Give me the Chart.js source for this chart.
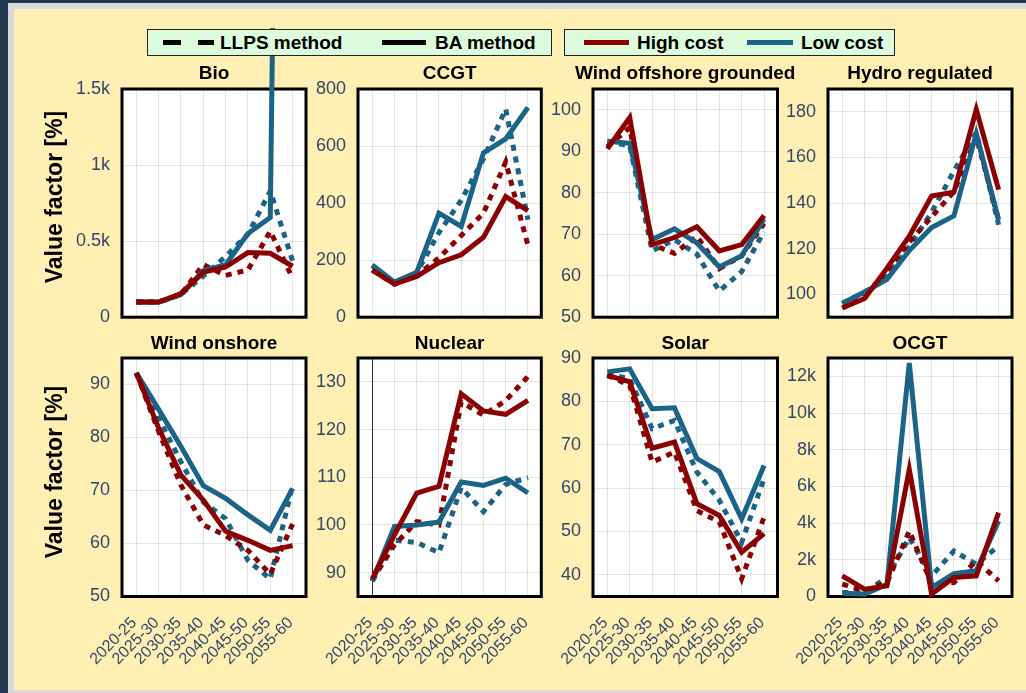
<!DOCTYPE html>
<html>
<head>
<meta charset="utf-8">
<title>Value factor by technology</title>
<script src="https://cdn.jsdelivr.net/npm/chart.js@4.4.1/dist/chart.umd.min.js"></script>
<style>
  html, body { margin: 0; padding: 0; }
  body {
    width: 1026px; height: 693px; position: relative; overflow: hidden;
    background: #22384f;
    font-family: "Liberation Sans", Arial, Helvetica, sans-serif;
  }
  #frame { position: absolute; left: 8px; top: 3px; right: -10px; bottom: -10px; background: #d9d9d9; }
  #sheet { position: absolute; left: 14px; top: 9px; right: -10px; height: 681px; background: #ffefb2; }
  canvas { position: absolute; }
  .legend {
    position: absolute; top: 29px; height: 25px; z-index: 5;
    background: #ddfcdc; border: 1px solid #222;
  }
  .legend span { position: absolute; }
  .sw { top: 10px; height: 5px; }
  .lbl { top: 0; line-height: 25px; font-weight: bold; font-size: 19px; color: #000; white-space: nowrap; }
  .ytitle {
    position: absolute; left: 54px; z-index: 4;
    font-weight: bold; font-size: 23px; color: #000; white-space: nowrap;
    transform: translate(-50%, -50%) rotate(-90deg);
  }
</style>
</head>
<body>
<div id="frame"></div>
<div id="sheet"></div>

<div class="legend" style="left:147px; width:403px;">
  <span class="sw" style="left:15px; width:18px; background:#000;"></span>
  <span class="sw" style="left:50px; width:16px; background:#000;"></span>
  <span class="lbl" style="left:72px;">LLPS method</span>
  <span class="sw" style="left:234px; width:44px; background:#000;"></span>
  <span class="lbl" style="left:287px;">BA method</span>
</div>
<div class="legend" style="left:564px; width:329px;">
  <span class="sw" style="left:19px; width:45px; background:#8b0000;"></span>
  <span class="lbl" style="left:72px;">High cost</span>
  <span class="sw" style="left:182px; width:46px; background:#1b6387;"></span>
  <span class="lbl" style="left:236px;">Low cost</span>
</div>

<div class="ytitle" style="top:197px;">Value factor [%]</div>
<div class="ytitle" style="top:472px;">Value factor [%]</div>

<script>
// Periods on the horizontal axis
const periods = ['2020-25', '2025-30', '2030-35', '2035-40', '2040-45', '2045-50', '2050-55', '2055-60'];

// Bio
const bioBaHigh   = [100, 100, 155, 295, 330, 425, 420, 335];
const bioBaLow    = [100, 98, 148, 305, 345, 550, 655, 12500];
const bioLlpsHigh = [100, 100, 150, 345, 275, 310, 565, 255];
const bioLlpsLow  = [100, 100, 150, 270, 400, 545, 830, 370];
const bioTicks    = [0, 500, 1000, 1500];

// CCGT
const ccgtBaHigh   = [165, 116, 143, 191, 219, 280, 423, 374];
const ccgtBaLow    = [183, 123, 157, 365, 318, 576, 625, 735];
const ccgtLlpsHigh = [165, 116, 145, 208, 286, 365, 544, 252];
const ccgtLlpsLow  = [180, 120, 155, 297, 410, 555, 730, 342];
const ccgtTicks    = [0, 200, 400, 600, 800];

// Wind offshore grounded
const offBaHigh   = [90.6, 98.1, 67.5, 69.2, 71.8, 66.0, 67.5, 74.5];
const offBaLow    = [92.4, 91.9, 68.7, 71.3, 67.9, 62.1, 64.8, 73.7];
const offLlpsHigh = [91.1, 95.7, 67.5, 65.4, 69.5, 61.7, 64.8, 72.6];
const offLlpsLow  = [92.3, 91.3, 66.0, 68.7, 65.2, 56.3, 61.0, 70.6];
const offTicks    = [50, 60, 70, 80, 90, 100];

// Hydro regulated
const hydroBaHigh   = [94.0, 98.2, 111.5, 125.5, 143.1, 144.8, 181.0, 145.9];
const hydroBaLow    = [96.1, 101.0, 106.6, 119.2, 129.3, 134.4, 170.5, 132.6];
const hydroLlpsHigh = [94.0, 99.0, 110.0, 123.0, 134.0, 145.0, 169.0, 132.6];
const hydroLlpsLow  = [96.0, 101.0, 108.0, 121.0, 136.0, 154.0, 171.0, 130.5];
const hydroTicks    = [100, 120, 140, 160, 180];

// Wind onshore
const onBaHigh   = [92.2, 81.8, 72.9, 68.2, 62.3, 60.6, 58.7, 59.6];
const onBaLow    = [92.2, 85.3, 78.3, 70.9, 68.5, 65.4, 62.5, 70.4];
const onLlpsHigh = [92.2, 81.1, 71.0, 63.5, 61.5, 58.7, 54.2, 63.7];
const onLlpsLow  = [92.2, 83.7, 75.4, 67.8, 64.7, 56.8, 53.3, 71.0];
const onTicks    = [50, 60, 70, 80, 90];

// Nuclear
const nucBaHigh   = [88.7, 97.9, 106.7, 108.1, 127.5, 123.9, 123.2, 126.1];
const nucBaLow    = [88.2, 99.7, 100.0, 100.6, 109.0, 108.3, 109.8, 106.7];
const nucLlpsHigh = [88.5, 95.8, 100.7, 100.0, 125.8, 123.0, 126.1, 131.1];
const nucLlpsLow  = [88.2, 96.8, 96.3, 94.2, 107.8, 102.8, 108.5, 109.9];
const nucTicks    = [90, 100, 110, 120, 130];

// Solar
const solBaHigh   = [86.0, 84.5, 69.2, 70.6, 56.4, 53.7, 45.2, 49.5];
const solBaLow    = [86.8, 87.5, 78.3, 78.5, 66.8, 63.8, 52.9, 65.2];
const solLlpsHigh = [86.0, 83.7, 66.0, 68.3, 54.8, 52.2, 39.1, 53.3];
const solLlpsLow  = [86.4, 85.2, 73.7, 75.6, 63.7, 57.2, 47.5, 62.2];
const solTicks    = [40, 50, 60, 70, 80, 90];

// OCGT
const ocgtBaHigh   = [1125, 400, 580, 6925, 130, 1030, 1125, 4570];
const ocgtBaLow    = [180, 130, 670, 12730, 490, 1250, 1400, 4115];
const ocgtLlpsHigh = [670, 310, 760, 3570, 710, 760, 1940, 850];
const ocgtLlpsLow  = [220, 220, 1030, 3210, 1125, 2480, 1760, 2755];
const ocgtTicks    = [0, 2000, 4000, 6000, 8000, 10000, 12000];

const RED = '#8b0000';
const BLUE = '#1b6387';
const TICK_COLOR = '#30486c';
const GRID_COLOR = 'rgba(0,0,0,0.1)';
const FONT = '"Liberation Sans", Arial, Helvetica, sans-serif';

const kLabel = v => (v === 0 ? '0' : (v / 1000) + 'k');
const plainLabel = v => String(v);

// Plot-area edges per column / row
const COLS = [[121.5, 305.5], [357.5, 540.8], [592.5, 777], [828, 1012]];
const ROWS = [
  { top: 89, bottom: 325.5, canvasTop: 28, canvasBottom: 340, titleGap: 15.5, showX: false },
  { top: 358, bottom: 596.5, canvasTop: 330, canvasBottom: 690, titleGap: 14, showX: true }
];
const Y_AXIS_W = 62;
const RIGHT_PAD = 40;

const panels = [
  { title: 'Bio', col: 0, row: 0, min: 0, max: 1500, ticks: bioTicks, fmt: kLabel,
    baHigh: bioBaHigh, baLow: bioBaLow, llpsHigh: bioLlpsHigh, llpsLow: bioLlpsLow },
  { title: 'CCGT', col: 1, row: 0, min: 0, max: 800, ticks: ccgtTicks, fmt: plainLabel,
    baHigh: ccgtBaHigh, baLow: ccgtBaLow, llpsHigh: ccgtLlpsHigh, llpsLow: ccgtLlpsLow },
  { title: 'Wind offshore grounded', col: 2, row: 0, min: 50, max: 105, ticks: offTicks, fmt: plainLabel,
    baHigh: offBaHigh, baLow: offBaLow, llpsHigh: offLlpsHigh, llpsLow: offLlpsLow },
  { title: 'Hydro regulated', col: 3, row: 0, min: 90, max: 190, ticks: hydroTicks, fmt: plainLabel,
    baHigh: hydroBaHigh, baLow: hydroBaLow, llpsHigh: hydroLlpsHigh, llpsLow: hydroLlpsLow },
  { title: 'Wind onshore', col: 0, row: 1, min: 50, max: 95, ticks: onTicks, fmt: plainLabel,
    baHigh: onBaHigh, baLow: onBaLow, llpsHigh: onLlpsHigh, llpsLow: onLlpsLow },
  { title: 'Nuclear', col: 1, row: 1, min: 85, max: 135, ticks: nucTicks, fmt: plainLabel, darkFirstGrid: true,
    baHigh: nucBaHigh, baLow: nucBaLow, llpsHigh: nucLlpsHigh, llpsLow: nucLlpsLow },
  { title: 'Solar', col: 2, row: 1, min: 35, max: 90, ticks: solTicks, fmt: plainLabel,
    baHigh: solBaHigh, baLow: solBaLow, llpsHigh: solLlpsHigh, llpsLow: solLlpsLow },
  { title: 'OCGT', col: 3, row: 1, min: 0, max: 13000, ticks: ocgtTicks, fmt: kLabel,
    baHigh: ocgtBaHigh, baLow: ocgtBaLow, llpsHigh: ocgtLlpsHigh, llpsLow: ocgtLlpsLow }
];

// White plot background, heavy frame and a title centred over the plot area
const plotFrame = {
  id: 'plotFrame',
  beforeDraw(chart) {
    const { ctx, chartArea: a } = chart;
    ctx.save();
    ctx.fillStyle = '#ffffff';
    ctx.fillRect(a.left, a.top, a.right - a.left, a.bottom - a.top);
    ctx.restore();
  },
  beforeDatasetsDraw(chart) {
    const { ctx, chartArea: a } = chart;
    ctx.save();
    ctx.strokeStyle = '#000';
    ctx.lineWidth = 3;
    ctx.strokeRect(a.left, a.top, a.right - a.left, a.bottom - a.top);
    ctx.restore();
  },
  afterDraw(chart, args, opts) {
    const { ctx, chartArea: a } = chart;
    ctx.save();
    ctx.fillStyle = '#000';
    ctx.font = 'bold 19px ' + FONT;
    ctx.textAlign = 'center';
    ctx.textBaseline = 'middle';
    ctx.fillText(opts.title, (a.left + a.right) / 2, a.top - opts.gap);
    ctx.restore();
  }
};

function line(values, color, dashed) {
  return {
    data: values.map((y, i) => ({ x: i, y })),
    borderColor: color,
    backgroundColor: color,
    borderWidth: 5,
    borderDash: dashed ? [6, 6] : [],
    pointRadius: 0,
    tension: 0,
    fill: false,
    clip: false
  };
}

panels.forEach(p => {
  const [left, right] = COLS[p.col];
  const row = ROWS[p.row];
  const canvasLeft = left - Y_AXIS_W;
  const width = Math.round(right + RIGHT_PAD - canvasLeft);
  const height = row.canvasBottom - row.canvasTop;

  const canvas = document.createElement('canvas');
  canvas.width = width;
  canvas.height = height;
  canvas.style.left = canvasLeft + 'px';
  canvas.style.top = row.canvasTop + 'px';
  canvas.style.width = width + 'px';
  canvas.style.height = height + 'px';
  document.body.appendChild(canvas);

  new Chart(canvas, {
    type: 'line',
    data: {
      datasets: [
        line(p.baHigh, RED, false),
        line(p.baLow, BLUE, false),
        line(p.llpsHigh, RED, true),
        line(p.llpsLow, BLUE, true)
      ]
    },
    options: {
      responsive: false,
      animation: false,
      events: [],
      layout: { padding: { top: row.top - row.canvasTop, right: width - (right - canvasLeft), bottom: 0, left: 0 } },
      plugins: {
        legend: { display: false },
        tooltip: { enabled: false },
        plotFrame: { title: p.title, gap: row.titleGap }
      },
      scales: {
        x: {
          type: 'linear',
          min: -0.64,
          max: 7.6,
          afterBuildTicks: s => { s.ticks = periods.map((_, i) => ({ value: i })); },
          afterFit: s => { s.height = row.canvasBottom - row.bottom; },
          border: { display: false },
          grid: {
            drawTicks: false,
            color: c => (p.darkFirstGrid && c.tick && c.tick.value === 0) ? '#333' : GRID_COLOR
          },
          ticks: {
            display: row.showX,
            autoSkip: false,
            minRotation: 45,
            maxRotation: 45,
            padding: 17,
            labelOffset: -2,
            color: TICK_COLOR,
            font: { family: FONT, size: 16 },
            callback: v => periods[v]
          }
        },
        y: {
          type: 'linear',
          min: p.min,
          max: p.max,
          afterBuildTicks: s => { s.ticks = p.ticks.map(v => ({ value: v })); },
          afterFit: s => { s.width = Y_AXIS_W; },
          border: { display: false },
          grid: { drawTicks: false, color: GRID_COLOR },
          ticks: {
            padding: 12,
            color: TICK_COLOR,
            font: { family: FONT, size: 18 },
            callback: p.fmt
          }
        }
      }
    },
    plugins: [plotFrame]
  });
});
</script>
</body>
</html>
